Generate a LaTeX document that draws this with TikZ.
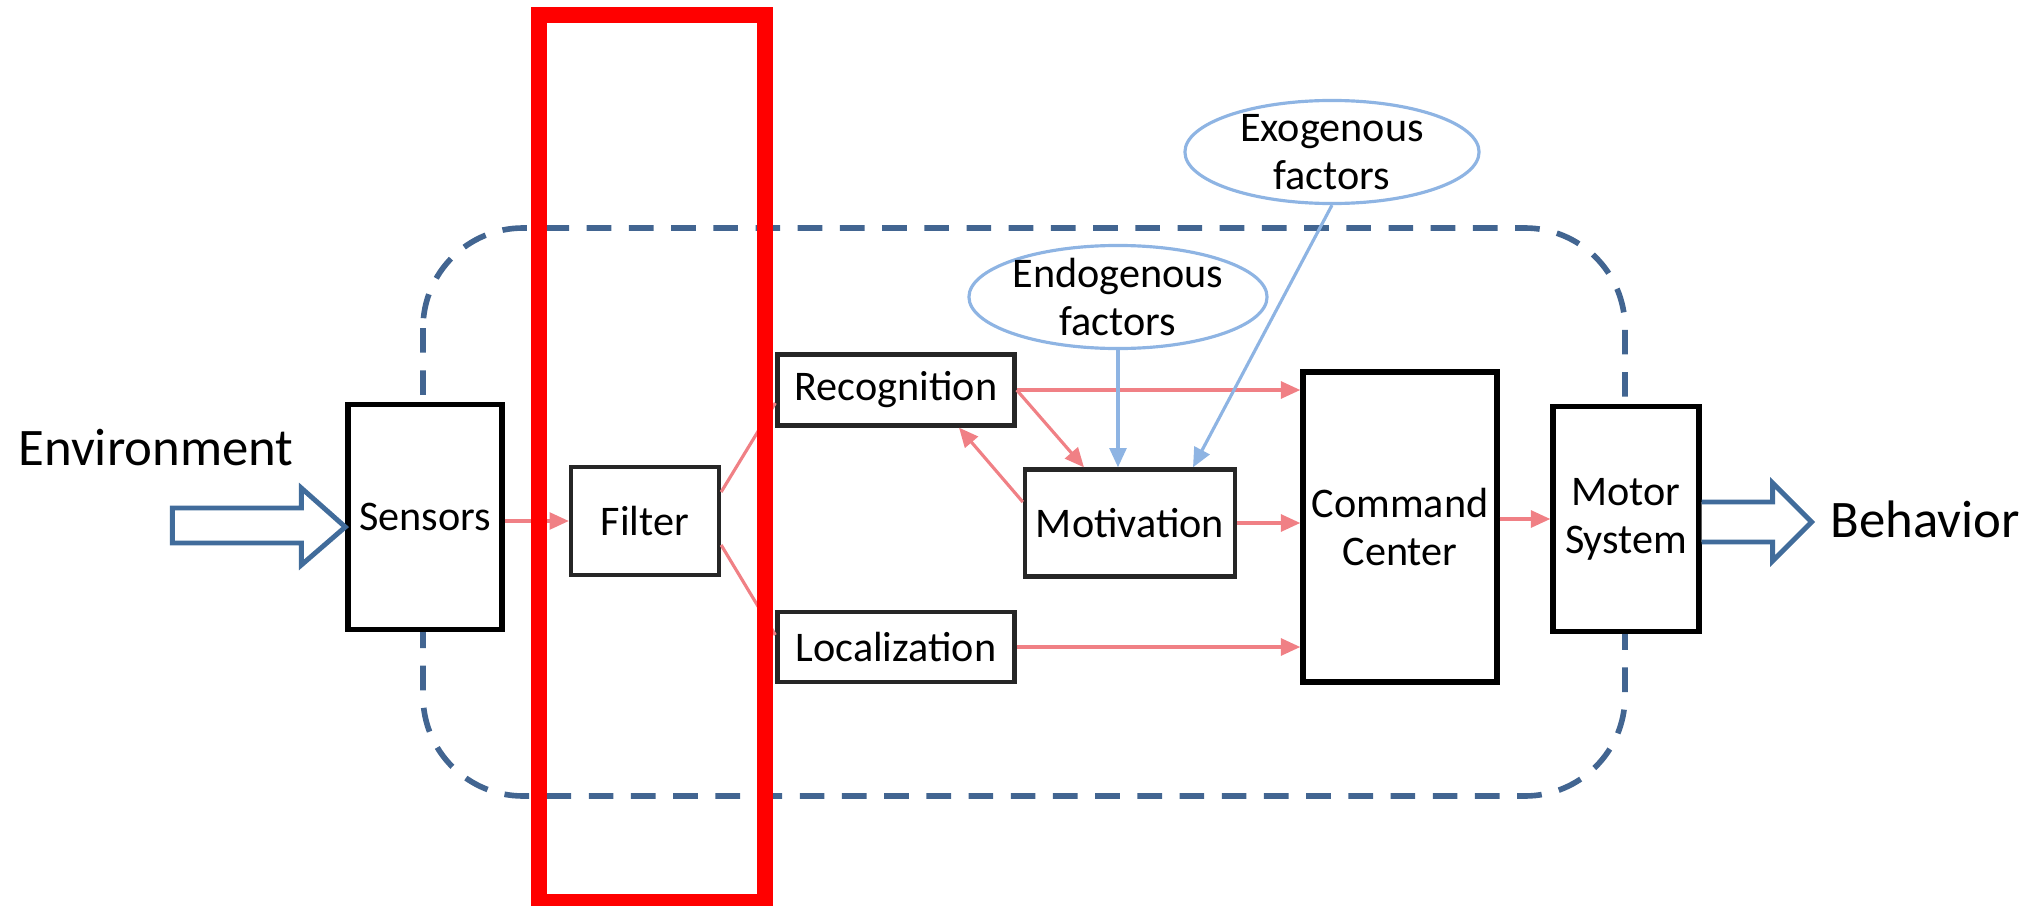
\documentclass[tikz,border=0pt]{standalone}
\usepackage{fontspec}
\setmainfont{Carlito}
\usepackage{tikz}
\usetikzlibrary{arrows.meta, shapes, calc, positioning}
\usepackage{xcolor}

\definecolor{flowred}{RGB}{240,128,133}
\definecolor{factorblue}{RGB}{142,180,227}
\definecolor{frameblue}{RGB}{66,101,145}
\definecolor{outlineblue}{RGB}{65,108,155}

\begin{document}
\begin{tikzpicture}[x=0.01cm, y=-0.01cm,
    box/.style={draw=black!85, line width=1.2pt, fill=white, inner sep=0pt, align=center, font=\fontsize{12}{13.7}\selectfont},
    heavy/.style={draw=black, line width=1.5pt},
    factor/.style={ellipse, draw=factorblue, line width=0.9pt, fill=white, inner xsep=0pt, inner ysep=-1.5pt, align=center, font=\fontsize{12}{13.7}\selectfont},
    flow/.style={flowred, line width=0.9pt, -{Triangle[length=5.5pt, width=4.8pt]}},
    feed/.style={factorblue, line width=0.9pt, -{Triangle[length=5.5pt, width=4.8pt]}},
    bigarrow/.style={draw=outlineblue, line width=1.4pt, fill=white, line join=miter},
    bigtext/.style={font=\fontsize{15}{18}\selectfont}]

  \useasboundingbox (0,0) rectangle (2041,906);

  % system boundary
  \draw[frameblue, line width=1.6pt, dash pattern=on 7pt off 5pt, rounded corners=1cm] (423,228) rectangle (1625,796);

  % blocks
  \node[box, heavy, minimum width=1.54cm, minimum height=2.25cm] (sens) at (425,517) {Sensors};
  \node[box, minimum width=1.48cm, minimum height=1.08cm] (filt) at (645,521) {Filter};
  \node[box, minimum width=2.37cm, minimum height=0.71cm] (rec) at (896,390) {Recognition};
  \node[box, minimum width=2.37cm, minimum height=0.70cm] (loc) at (896,647) {Localization};
  \node[box, minimum width=2.10cm, minimum height=1.07cm] (mot) at (1130,523) {Motivation};
  \node[box, heavy, minimum width=1.94cm, minimum height=3.10cm] (cmd) at (1400,527) {Command\\Center};
  \node[box, heavy, minimum width=1.46cm, minimum height=2.25cm] (motor) at (1626,519) {Motor\\System};

  % factors
  \node[factor, minimum width=2.93cm, minimum height=1.03cm] (endo) at (1118,297) {Endogenous\\factors};
  \node[factor, minimum width=2.94cm, minimum height=1.03cm] (exo) at (1332,152) {Exogenous\\factors};

  % outside
  \node[bigtext] (env) at (156,448) {Environment};
  \node[bigtext] (beh) at (1925,519) {Behavior};

  % flows
  \draw[flow] (sens.east |- filt.west) -- (filt.west);
  \draw[flowred, line width=0.9pt] ($(filt.east)+(0,-29)$) -- ($(rec.west)+(0,13)$);
  \draw[flowred, line width=0.9pt] ($(filt.east)+(0,24)$) -- ($(loc.west)+(0,-12)$);
  \draw[flow] (rec.east) -- (rec.east -| cmd.west);
  \draw[flow] (rec.east) -- ($(mot.north)+(-46,0)$);
  \draw[flow] ($(mot.west)+(0,-21)$) -- ($(rec.south)+(63,0)$);
  \draw[flow] (mot.east) -- (mot.east -| cmd.west);
  \draw[flow] (loc.east) -- (loc.east -| cmd.west);
  \draw[flow] (cmd.east |- motor.west) -- (motor.west);
  \draw[feed] (endo.south) -- (endo.south |- mot.north);
  \draw[feed] (exo.south) -- ($(mot.north)+(63,0)$);

  % in and out
  \draw[bigarrow] ($(sens.west)+(0,10)$) -- ++(-44,-39) -- ++(0,20) -- ++(-129,0) -- ++(0,35) -- ++(129,0) -- ++(0,22) -- cycle;
  \draw[bigarrow] ($(motor.east)+(0,-17)$) -- ++(71,0) -- ++(0,-19) -- ++(39,39) -- ++(-39,39) -- ++(0,-19) -- ++(-71,0);

  % highlight
  \draw[red, line width=0.16cm] (539,15) rectangle (765,902);
\end{tikzpicture}
\end{document}
